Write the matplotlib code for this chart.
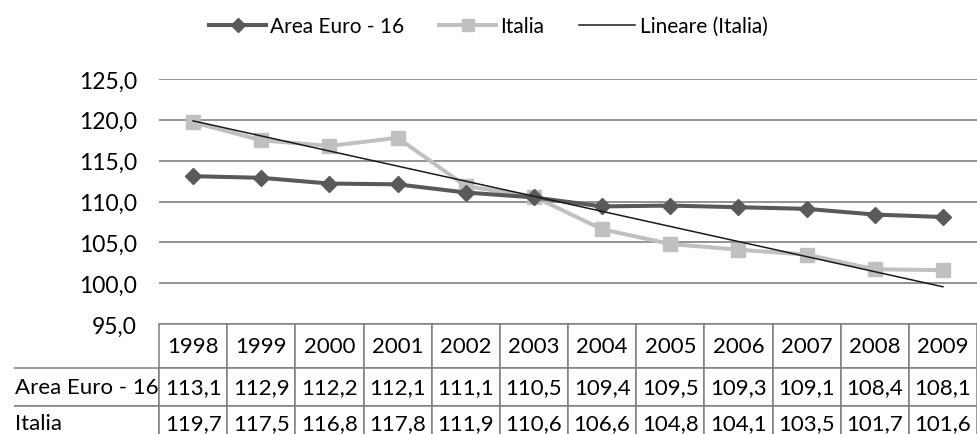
import numpy as np
import matplotlib
matplotlib.use("Agg")
import matplotlib.pyplot as plt
from matplotlib.lines import Line2D

plt.rcParams['font.family'] = ['Lato', 'DejaVu Sans']

anni = ['1998', '1999', '2000', '2001', '2002', '2003',
        '2004', '2005', '2006', '2007', '2008', '2009']
area_euro = [113.1, 112.9, 112.2, 112.1, 111.1, 110.5,
             109.4, 109.5, 109.3, 109.1, 108.4, 108.1]
italia = [119.7, 117.5, 116.8, 117.8, 111.9, 110.6,
          106.6, 104.8, 104.1, 103.5, 101.7, 101.6]
righe = ['Area Euro - 16', 'Italia']


def virgola(v):
    return f"{v:.1f}".replace('.', ',')


x = np.arange(len(anni))
# retta di tendenza lineare sui valori italiani
coef = np.polyfit(x, italia, 1)
trend = np.polyval(coef, x)

W, H = 977, 435
fig = plt.figure(figsize=(W / 100, H / 100), dpi=100)
ax_w, ax_h = 818, 245
ax = fig.add_axes([159 / W, 1 - 325 / H, ax_w / W, ax_h / H])

ax.plot(x, italia, color='#c0c0c0', lw=2.9, marker='s', markersize=10, zorder=3)
ax.plot(x, area_euro, color='#595959', lw=2.9, marker='D', markersize=8, zorder=4)
ax.plot(x, trend, color='#1a1a1a', lw=1.1, zorder=5)

ax.set_xlim(-0.5, len(anni) - 0.5)
ax.set_ylim(95, 125)
ax.set_yticks(np.arange(95, 126, 5))
ax.set_yticklabels([virgola(v) for v in np.arange(95, 126, 5)], fontsize=16.5)
ax.tick_params(axis='y', length=0, pad=16)
ax.set_xticks([])
for s in ax.spines.values():
    s.set_visible(False)
ax.grid(axis='y', color='#808080', lw=1.2)
ax.set_axisbelow(True)

# tabella dei dati sotto il grafico; larghezze e altezze in frazioni degli assi
# (le etichette di riga stanno a sinistra del bbox)
altezze = [44 / ax_h, 38 / ax_h, 35 / ax_h]
celle = [[virgola(v) for v in area_euro], [virgola(v) for v in italia]]
tab = ax.table(cellText=celle, rowLabels=righe, colLabels=anni,
               cellLoc='center', rowLoc='left',
               bbox=[0, -sum(altezze), 1, sum(altezze)])
tab.auto_set_font_size(False)
tab.set_fontsize(16)
for (r, c), cella in tab.get_celld().items():
    cella.set_edgecolor('#7f7f7f')
    cella.set_linewidth(1.1)
    cella.set_height(altezze[r])
    if c == -1:
        cella.set_width(159 / ax_w)
        cella.PAD = 0.005
        cella.visible_edges = 'TBR'
    else:
        cella.set_width(1 / len(anni))

voci = [Line2D([], [], color='#595959', lw=2.9, marker='D', markersize=7),
        Line2D([], [], color='#c0c0c0', lw=2.9, marker='s', markersize=9),
        Line2D([], [], color='#1a1a1a', lw=1.1)]
fig.legend(voci, ['Area Euro - 16', 'Italia', 'Lineare (Italia)'],
           loc='center', bbox_to_anchor=(0.5, 1 - 27 / H), ncol=3,
           frameon=False, fontsize=15, handlelength=2.7, columnspacing=1.7,
           handletextpad=0.2)

fig.savefig('out.png', dpi=100)
